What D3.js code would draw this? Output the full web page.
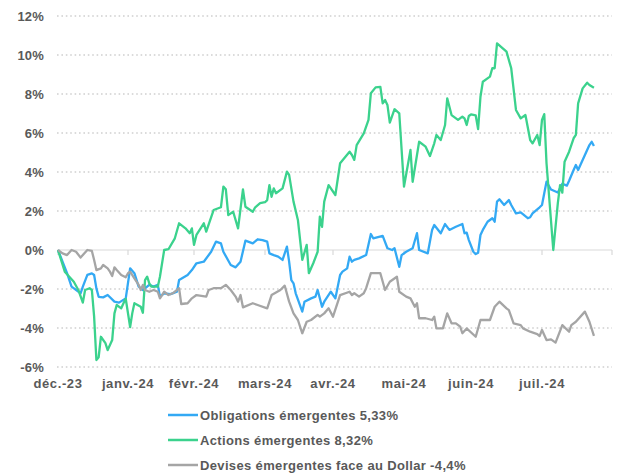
<!DOCTYPE html>
<html>
<head>
<meta charset="utf-8">
<script src="https://cdn.jsdelivr.net/npm/d3@7"></script>
<style>
  body { margin: 0; background: #fff; }
  svg { display: block; font-family: "Liberation Sans", Arial, sans-serif; }
</style>
</head>
<body>
<svg id="chart"></svg>
<script>
// Performance cumulée depuis le 1er déc. 2023, en %
const obligations = [
  ["2023-12-01",0],["2023-12-05",-1.19],["2023-12-07",-1.88],["2023-12-11",-2.22],["2023-12-12",-1.88],
  ["2023-12-14",-1.28],["2023-12-16",-1.2],["2023-12-17",-1.28],["2023-12-18",-1.97],["2023-12-19",-2.4],
  ["2023-12-21",-2.43],["2023-12-23",-2.31],["2023-12-26",-2.65],["2023-12-28",-2.7],["2023-12-31",-2.48],
  ["2024-01-02",-0.94],["2024-01-04",-1.19],["2024-01-06",-1.88],["2024-01-08",-2.05],["2024-01-11",-1.79],
  ["2024-01-13",-1.88],["2024-01-15",-1.79],["2024-01-16",-2.39],["2024-01-18",-2.22],["2024-01-21",-2.26],
  ["2024-01-24",-2.14],["2024-01-25",-1.54],["2024-01-29",-1.28],["2024-01-31",-1.03],["2024-02-02",-0.68],
  ["2024-02-05",-0.6],["2024-02-08",-0.09],["2024-02-10",0.43],["2024-02-12",0.34],["2024-02-13",-0.09],
  ["2024-02-16",-0.77],["2024-02-18",-0.89],["2024-02-20",-0.6],["2024-02-22",0.48],["2024-02-25",0.34],
  ["2024-02-27",0.55],["2024-02-29",0.51],["2024-03-02",0.43],["2024-03-03",-0.17],["2024-03-05",-0.26],
  ["2024-03-07",-0.34],["2024-03-09",-0.51],["2024-03-11",0.17],["2024-03-12",-0.6],["2024-03-13",-1.54],
  ["2024-03-14",-1.71],["2024-03-15",-2.22],["2024-03-18",-3.16],["2024-03-19",-2.65],["2024-03-22",-2.48],
  ["2024-03-24",-2.39],["2024-03-25",-2.05],["2024-03-27",-2.91],["2024-03-28",-2.65],["2024-03-31",-2.14],
  ["2024-04-02",-2.48],["2024-04-04",-1.28],["2024-04-05",-1.11],["2024-04-07",-0.94],["2024-04-08",-0.34],
  ["2024-04-09",-0.6],["2024-04-10",-0.51],["2024-04-12",-0.43],["2024-04-15",-0.26],["2024-04-17",0.82],
  ["2024-04-18",0.6],["2024-04-22",0.72],["2024-04-24",0.09],["2024-04-26",0],["2024-04-27",0.09],
  ["2024-04-29",-0.86],["2024-04-30",-0.26],["2024-05-02",-0.09],["2024-05-05",0.09],["2024-05-07",0.86],
  ["2024-05-08",0],["2024-05-12",-0.17],["2024-05-14",1.03],["2024-05-15",1.28],["2024-05-18",0.86],
  ["2024-05-20",1.33],["2024-05-22",1.03],["2024-05-25",1.19],["2024-05-28",1.33],["2024-05-29",0.86],
  ["2024-05-30",0.89],["2024-05-31",0.51],["2024-06-02",-0.09],["2024-06-03",-0.21],["2024-06-04",-0.14],
  ["2024-06-05",0.77],["2024-06-06",1.03],["2024-06-08",1.45],["2024-06-10",1.63],["2024-06-11",1.45],
  ["2024-06-12",2.48],["2024-06-13",2.6],["2024-06-15",2.31],["2024-06-17",2.56],["2024-06-18",2.31],
  ["2024-06-20",1.88],["2024-06-22",1.93],["2024-06-25",1.63],["2024-06-26",1.68],["2024-06-27",1.88],
  ["2024-06-30",2.19],["2024-07-01",2.31],["2024-07-02",2.91],["2024-07-03",3.5],["2024-07-05",3.1],
  ["2024-07-08",2.95],["2024-07-10",3.4],["2024-07-12",3.3],["2024-07-13",3.55],["2024-07-15",4.1],
  ["2024-07-16",4.36],["2024-07-17",4.1],["2024-07-20",4.87],["2024-07-22",5.38],["2024-07-23",5.55],
  ["2024-07-24",5.33]
];

const actions = [
  ["2023-12-01",0],["2023-12-04",-1.11],["2023-12-08",-1.63],["2023-12-10",-2.05],["2023-12-12",-2.7],
  ["2023-12-13",-2.05],["2023-12-15",-1.96],["2023-12-16",-2.05],["2023-12-17",-3.42],["2023-12-18",-5.64],
  ["2023-12-19",-5.5],["2023-12-20",-4.45],["2023-12-22",-4.78],["2023-12-23",-5.13],["2023-12-25",-4.62],
  ["2023-12-26",-3.25],["2023-12-27",-2.82],["2023-12-29",-2.99],["2023-12-30",-2.73],["2023-12-31",-2.5],
  ["2024-01-02",-3.95],["2024-01-03",-3.25],["2024-01-04",-2.73],["2024-01-07",-2.91],["2024-01-08",-3.22],
  ["2024-01-09",-1.54],["2024-01-10",-1.37],["2024-01-11",-1.71],["2024-01-12",-1.88],["2024-01-15",-1.88],
  ["2024-01-16",-1.37],["2024-01-18",0],["2024-01-20",0.04],["2024-01-23",0.6],["2024-01-25",1.37],
  ["2024-01-28",1.11],["2024-01-30",0.86],["2024-01-31",1.11],["2024-02-01",0.26],["2024-02-02",0.77],
  ["2024-02-05",1.37],["2024-02-06",0.94],["2024-02-09",2.05],["2024-02-12",2.19],["2024-02-13",3.25],
  ["2024-02-14",3.11],["2024-02-15",1.79],["2024-02-17",1.96],["2024-02-19",1.11],["2024-02-21",3.11],
  ["2024-02-22",2.22],["2024-02-25",1.96],["2024-02-26",2.19],["2024-02-28",2.4],["2024-03-01",2.45],
  ["2024-03-02",2.56],["2024-03-03",3.33],["2024-03-04",2.73],["2024-03-05",3.16],["2024-03-06",2.91],
  ["2024-03-09",3.16],["2024-03-11",4.02],["2024-03-12",3.85],["2024-03-14",2.48],["2024-03-16",1.54],
  ["2024-03-18",-0.51],["2024-03-20",0.26],["2024-03-21",-1.19],["2024-03-23",-0.68],["2024-03-25",-0.09],
  ["2024-03-26",1.71],["2024-03-27",1.19],["2024-03-28",2.48],["2024-03-30",3.33],["2024-04-02",2.82],
  ["2024-04-04",4.45],["2024-04-08",5.04],["2024-04-09",4.87],["2024-04-10",4.62],["2024-04-11",5.38],
  ["2024-04-14",5.98],["2024-04-16",6.67],["2024-04-17",8.04],["2024-04-19",8.34],["2024-04-21",8.37],
  ["2024-04-22",7.52],["2024-04-23",7.69],["2024-04-24",7.44],["2024-04-25",6.53],["2024-04-27",7.22],
  ["2024-04-29",7.01],["2024-05-01",3.25],["2024-05-04",5.13],["2024-05-05",3.5],["2024-05-08",5.55],
  ["2024-05-11",5.3],["2024-05-13",4.82],["2024-05-15",5.47],["2024-05-16",5.9],["2024-05-18",5.64],
  ["2024-05-20",6.41],["2024-05-21",7.78],["2024-05-23",6.92],["2024-05-26",6.67],["2024-05-28",6.84],
  ["2024-05-29",6.75],["2024-05-30",6.41],["2024-05-31",6.87],["2024-06-01",6.95],["2024-06-03",6.9],
  ["2024-06-04",6.2],["2024-06-05",7.86],["2024-06-06",8.63],["2024-06-09",8.89],["2024-06-10",9.32],
  ["2024-06-11",9.32],["2024-06-12",10.6],["2024-06-16",10.17],["2024-06-18",9.32],["2024-06-20",7.18],
  ["2024-06-22",6.75],["2024-06-24",6.92],["2024-06-26",5.64],["2024-06-27",5.47],["2024-06-29",5.9],
  ["2024-06-30",5.38],["2024-07-01",6.67],["2024-07-02",6.97],["2024-07-03",4.45],["2024-07-06",0],
  ["2024-07-08",2.39],["2024-07-09",3.33],["2024-07-10",2.94],["2024-07-11",4.53],["2024-07-13",5.04],
  ["2024-07-15",5.73],["2024-07-16",5.9],["2024-07-17",7.52],["2024-07-19",8.29],["2024-07-21",8.58],
  ["2024-07-22",8.46],["2024-07-24",8.32]
];

const devises = [
  ["2023-12-01",0],["2023-12-03",-0.17],["2023-12-05",-0.26],["2023-12-07",0],["2023-12-09",-0.09],
  ["2023-12-11",-0.39],["2023-12-12",-0.26],["2023-12-14",0],["2023-12-16",-0.05],["2023-12-17",-0.51],
  ["2023-12-18",-1.03],["2023-12-20",-0.94],["2023-12-21",-0.77],["2023-12-23",-0.94],["2023-12-24",-1.11],
  ["2023-12-25",-1.33],["2023-12-26",-0.89],["2023-12-27",-1.03],["2023-12-29",-1.28],["2023-12-31",-1.4],
  ["2024-01-01",-1.19],["2024-01-02",-1.11],["2024-01-04",-1.45],["2024-01-06",-1.79],["2024-01-07",-2.05],
  ["2024-01-08",-1.79],["2024-01-09",-2.05],["2024-01-11",-2.14],["2024-01-13",-2.05],["2024-01-15",-2.14],
  ["2024-01-16",-2.48],["2024-01-17",-2.31],["2024-01-18",-2.14],["2024-01-20",-2.31],["2024-01-22",-2.22],
  ["2024-01-24",-2.05],["2024-01-25",-1.96],["2024-01-26",-2.77],["2024-01-29",-2.73],["2024-01-31",-2.48],
  ["2024-02-02",-2.31],["2024-02-06",-2.39],["2024-02-07",-2.05],["2024-02-09",-1.96],["2024-02-12",-1.96],
  ["2024-02-14",-1.79],["2024-02-16",-2.05],["2024-02-18",-2.39],["2024-02-19",-2.65],["2024-02-20",-2.31],
  ["2024-02-21",-2.94],["2024-02-25",-2.73],["2024-02-27",-2.82],["2024-03-02",-2.99],["2024-03-04",-2.31],
  ["2024-03-08",-2.05],["2024-03-10",-1.83],["2024-03-12",-2.65],["2024-03-14",-3.25],["2024-03-16",-3.59],
  ["2024-03-18",-4.27],["2024-03-20",-3.68],["2024-03-22",-3.59],["2024-03-25",-3.33],["2024-03-26",-3.42],
  ["2024-03-28",-3.25],["2024-03-30",-2.99],["2024-04-01",-3.42],["2024-04-04",-2.31],["2024-04-08",-2.14],
  ["2024-04-09",-2.31],["2024-04-10",-2.22],["2024-04-12",-2.39],["2024-04-14",-2.22],["2024-04-15",-1.96],
  ["2024-04-17",-1.19],["2024-04-21",-1.19],["2024-04-23",-2.05],["2024-04-25",-1.63],["2024-04-28",-1.37],
  ["2024-04-29",-2.14],["2024-05-02",-2.39],["2024-05-04",-2.48],["2024-05-06",-2.91],["2024-05-07",-2.73],
  ["2024-05-08",-3.5],["2024-05-11",-3.5],["2024-05-14",-3.59],["2024-05-15",-3.42],["2024-05-16",-4.02],
  ["2024-05-19",-4.02],["2024-05-21",-3.25],["2024-05-23",-3.76],["2024-05-25",-3.76],["2024-05-27",-3.93],
  ["2024-05-28",-4.27],["2024-05-30",-4.02],["2024-06-03",-4.45],["2024-06-05",-3.59],["2024-06-09",-3.59],
  ["2024-06-11",-2.91],["2024-06-13",-2.65],["2024-06-16",-2.99],["2024-06-17",-3.08],["2024-06-19",-3.76],
  ["2024-06-22",-3.85],["2024-06-23",-4.02],["2024-06-26",-4.19],["2024-06-29",-4.31],["2024-06-30",-4.41],
  ["2024-07-01",-4.1],["2024-07-03",-4.62],["2024-07-05",-4.58],["2024-07-07",-4.75],["2024-07-10",-3.85],
  ["2024-07-13",-4.19],["2024-07-14",-3.85],["2024-07-16",-3.68],["2024-07-20",-3.16],["2024-07-22",-3.68],
  ["2024-07-24",-4.4]
];

const seriesNames = [
  "Obligations émergentes 5,33%",
  "Actions émergentes 8,32%",
  "Devises émergentes face au Dollar -4,4%"
];
const seriesColors = ["#33a9f4", "#3bd28d", "#a5a5a5"];

const monthStarts = ["2023-12-01","2024-01-01","2024-02-01","2024-03-01","2024-04-01",
                     "2024-05-01","2024-06-01","2024-07-01","2024-08-01"];
const monthLabels = ["déc.-23","janv.-24","févr.-24","mars-24","avr.-24","mai-24","juin-24","juil.-24"];
const yTicks = [-6, -4, -2, 0, 2, 4, 6, 8, 10, 12];

const width = 624, height = 473;
const parse = d3.timeParse("%Y-%m-%d");
const textColor = "#595959";

const svg = d3.select("#chart").attr("width", width).attr("height", height);
svg.append("rect").attr("width", width).attr("height", height).attr("fill", "#fff");

// the source axis is not evenly spaced per calendar day: months get slightly different widths
const monthPx = [58, 128, 194, 265, 333, 404, 471, 542, 612];
const x = d3.scaleTime().domain(monthStarts.map(parse)).range(monthPx);
const y = d3.scaleLinear().domain([-6, 12]).range([367, 16]);

// gridlines
svg.append("g")
  .selectAll("line")
  .data(yTicks.filter(d => d !== 0))
  .join("line")
  .attr("x1", 57).attr("x2", 612)
  .attr("y1", d => y(d)).attr("y2", d => y(d))
  .attr("stroke", "#d0d0d0")
  .attr("stroke-width", 1.4)
  .attr("stroke-dasharray", "1.6 2.8");

// zero axis with month ticks
svg.append("line")
  .attr("x1", 57).attr("x2", 612)
  .attr("y1", y(0)).attr("y2", y(0))
  .attr("stroke", "#d9d9d9").attr("stroke-width", 1.2);
svg.append("g")
  .selectAll("line")
  .data(monthStarts.map(parse))
  .join("line")
  .attr("x1", d => x(d)).attr("x2", d => x(d))
  .attr("y1", y(0)).attr("y2", y(0) + 5)
  .attr("stroke", "#d9d9d9").attr("stroke-width", 1.2);

// y labels
svg.append("g")
  .selectAll("text")
  .data(yTicks)
  .join("text")
  .attr("x", 44)
  .attr("y", d => y(d))
  .attr("dy", "0.35em")
  .attr("text-anchor", "end")
  .attr("fill", textColor)
  .attr("font-size", 13)
  .attr("font-weight", "bold")
  .attr("letter-spacing", "0.2px")
  .text(d => d + "%");

// x labels
svg.append("g")
  .selectAll("text")
  .data(monthLabels)
  .join("text")
  .attr("x", (d, i) => x(parse(monthStarts[i])))
  .attr("y", 383)
  .attr("dy", "0.35em")
  .attr("text-anchor", "middle")
  .attr("fill", textColor)
  .attr("font-size", 13)
  .attr("font-weight", "bold")
  .attr("letter-spacing", "0.6px")
  .text(d => d);

// lines
const line = d3.line()
  .x(d => x(parse(d[0])))
  .y(d => y(d[1]));

const allSeries = [obligations, actions, devises];
allSeries.forEach((data, i) => {
  svg.append("path")
    .datum(data)
    .attr("fill", "none")
    .attr("stroke", seriesColors[i])
    .attr("stroke-width", 2.3)
    .attr("stroke-linejoin", "round")
    .attr("d", line);
});

// legend
const legend = svg.append("g");
seriesNames.forEach((name, i) => {
  const ly = 415 + i * 25;
  legend.append("line")
    .attr("x1", 168).attr("x2", 198)
    .attr("y1", ly).attr("y2", ly)
    .attr("stroke", seriesColors[i])
    .attr("stroke-width", 2.5);
  legend.append("text")
    .attr("x", 200)
    .attr("y", ly)
    .attr("dy", "0.35em")
    .attr("fill", textColor)
    .attr("font-size", 13)
    .attr("font-weight", "bold")
    .attr("letter-spacing", "0.35px")
    .text(name);
});
</script>
</body>
</html>
